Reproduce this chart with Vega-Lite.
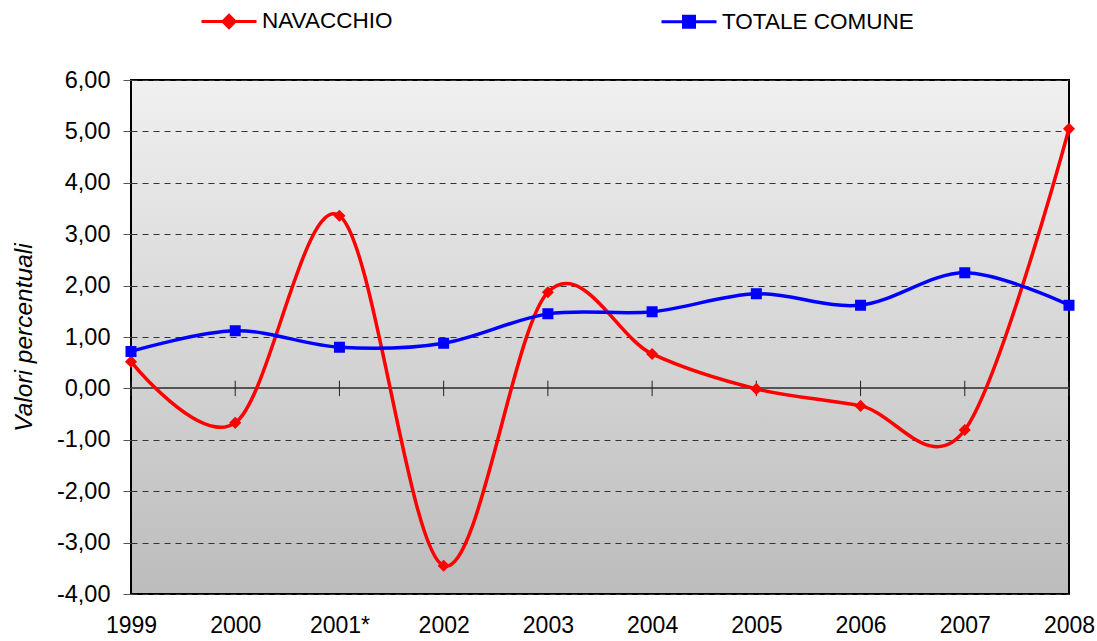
{
  "$schema": "https://vega.github.io/schema/vega-lite/v6.json",
  "autosize": "none",
  "width": 938,
  "height": 514,
  "padding": {"left": 131, "top": 80, "right": 28, "bottom": 47},
  "background": "white",
  "config": {
    "font": "Liberation Sans",
    "view": {
      "stroke": "black",
      "strokeWidth": 2,
      "fill": {"gradient": "linear", "x1": 0, "y1": 0, "x2": 0, "y2": 1, "stops": [{"offset": 0, "color": "#f0f0f0"}, {"offset": 1, "color": "#bcbcbc"}]}
    },
    "legend": {
      "title": null, "orient": "none", "legendX": 69, "legendY": -88, "direction": "horizontal",
      "padding": 0, "labelFontSize": 22.5, "labelColor": "black", "labelOffset": 4, "labelLimit": 0,
      "symbolSize": 3025, "symbolStrokeWidth": 3, "columnPadding": 262
    }
  },
  "data": {
    "values": [
      {"year": "1999", "serie": "NAVACCHIO", "value": 0.52},
      {"year": "2000", "serie": "NAVACCHIO", "value": -0.67},
      {"year": "2001*", "serie": "NAVACCHIO", "value": 3.36},
      {"year": "2002", "serie": "NAVACCHIO", "value": -3.45},
      {"year": "2003", "serie": "NAVACCHIO", "value": 1.87},
      {"year": "2004", "serie": "NAVACCHIO", "value": 0.67},
      {"year": "2005", "serie": "NAVACCHIO", "value": -0.01},
      {"year": "2006", "serie": "NAVACCHIO", "value": -0.34},
      {"year": "2007", "serie": "NAVACCHIO", "value": -0.81},
      {"year": "2008", "serie": "NAVACCHIO", "value": 5.05},
      {"year": "1999", "serie": "TOTALE COMUNE", "value": 0.72},
      {"year": "2000", "serie": "TOTALE COMUNE", "value": 1.12},
      {"year": "2001*", "serie": "TOTALE COMUNE", "value": 0.8},
      {"year": "2002", "serie": "TOTALE COMUNE", "value": 0.88},
      {"year": "2003", "serie": "TOTALE COMUNE", "value": 1.45},
      {"year": "2004", "serie": "TOTALE COMUNE", "value": 1.49},
      {"year": "2005", "serie": "TOTALE COMUNE", "value": 1.84},
      {"year": "2006", "serie": "TOTALE COMUNE", "value": 1.62},
      {"year": "2007", "serie": "TOTALE COMUNE", "value": 2.25},
      {"year": "2008", "serie": "TOTALE COMUNE", "value": 1.62}
    ]
  },
  "encoding": {
    "x": {
      "field": "year", "type": "ordinal", "sort": null,
      "scale": {"type": "point", "padding": 0},
      "axis": {"title": null, "ticks": false, "domain": false, "grid": false, "labelAngle": 0, "labelFontSize": 23, "labelColor": "black", "labelPadding": 20}
    }
  },
  "layer": [
    {
      "mark": {"type": "rule", "color": "#555555", "strokeWidth": 1.2},
      "encoding": {
        "x": null,
        "y": {"datum": 0, "type": "quantitative"}
      }
    },
    {
      "transform": [{"filter": "datum.serie === 'NAVACCHIO'"}],
      "mark": {"type": "rule", "color": "#222222", "strokeWidth": 1},
      "encoding": {
        "y": {"datum": 0.15, "type": "quantitative"},
        "y2": {"datum": -0.15}
      }
    },
    {
      "mark": {"type": "line", "interpolate": "cardinal", "strokeWidth": 3.5},
      "encoding": {
        "y": {
          "field": "value", "type": "quantitative",
          "scale": {"domain": [-4, 6], "nice": false, "zero": false},
          "axis": {
            "title": "Valori percentuali", "titleFontStyle": "italic", "titleFontWeight": "normal", "titleFontSize": 24.5, "titleColor": "black", "titlePadding": 20,
            "values": [-4, -3, -2, -1, 0, 1, 2, 3, 4, 5, 6],
            "labelExpr": "replace(replace(format(datum.value, '.2f'), '.', ','), '−', '-')",
            "labelFontSize": 23.5, "labelColor": "black", "labelPadding": 13,
            "tickSize": 8, "tickColor": "#555555", "domain": false,
            "grid": true, "gridColor": "#333333", "gridDash": [6, 5], "gridWidth": 1
          }
        },
        "color": {
          "field": "serie", "type": "nominal", "sort": null,
          "scale": {"domain": ["NAVACCHIO", "TOTALE COMUNE"], "range": ["#ff0000", "#0000ff"]},
          "legend": {
            "encode": {
              "symbols": {
                "update": {
                  "fill": {"signal": "datum.value === 'NAVACCHIO' ? '#ff0000' : '#0000ff'"},
                  "stroke": {"signal": "datum.value === 'NAVACCHIO' ? '#ff0000' : '#0000ff'"},
                  "strokeWidth": {"value": 3}
                }
              }
            }
          }
        }
      }
    },
    {
      "mark": {"type": "point", "filled": true, "size": 3025, "opacity": 1, "strokeWidth": 0},
      "encoding": {
        "y": {"field": "value", "type": "quantitative"},
        "color": {"field": "serie", "type": "nominal", "sort": null},
        "shape": {
          "field": "serie", "type": "nominal", "sort": null,
          "scale": {"domain": ["NAVACCHIO", "TOTALE COMUNE"], "range": ["M-1,0H1M0,-0.22L0.22,0L0,0.22L-0.22,0Z", "M-1,0H1M-0.2,-0.2H0.2V0.2H-0.2Z"]}
        }
      }
    }
  ]
}
